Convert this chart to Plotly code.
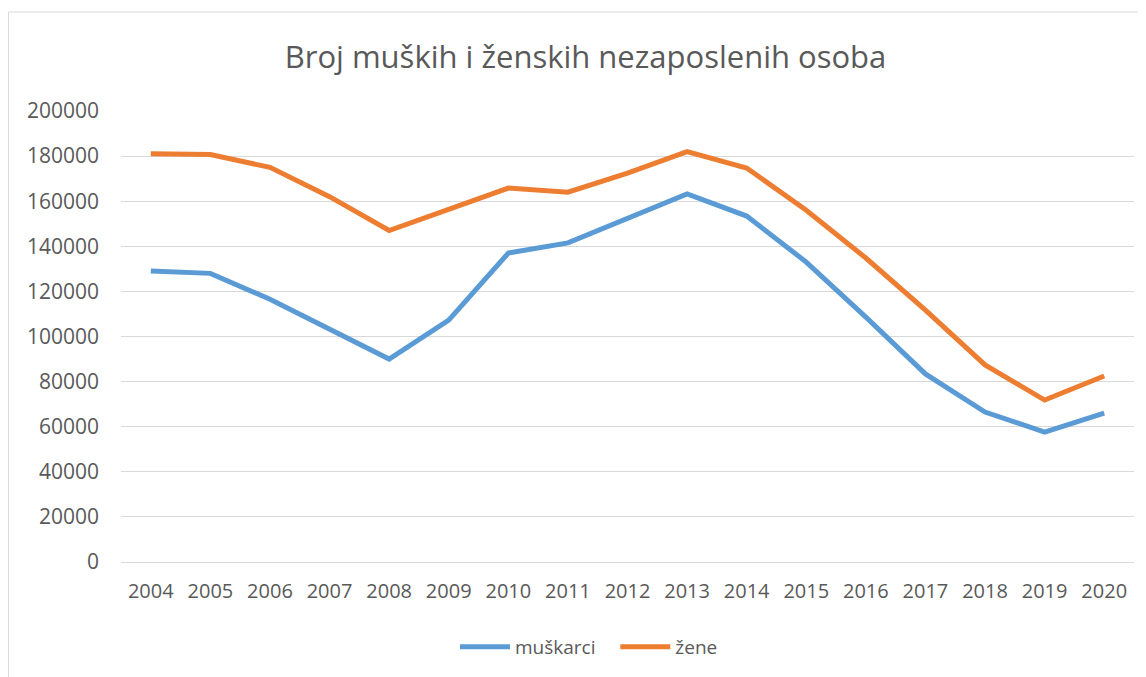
import plotly.graph_objects as go

years = [str(y) for y in range(2004, 2021)]
muskarci = [129000, 128000, 116500, 103000, 90000, 107300, 137000, 141500, 152500, 163200, 153400, 133000, 108600, 83400, 66500, 57600, 66000]
zene = [181000, 180700, 175000, 162000, 147000, 156500, 165800, 164000, 172500, 182000, 174700, 156000, 134800, 111700, 87400, 71800, 82500]
y_ticks = list(range(0, 200001, 20000))

W, H = 1146, 677
L, R, T, B = 113, 20, 103, 123
pw = W - L - R
ph = H - T - B

fig = go.Figure()
fig.add_trace(go.Scatter(x=years, y=muskarci, mode="lines", name="muškarci   ",
                         line=dict(color="#5b9bd5", width=5)))
fig.add_trace(go.Scatter(x=years, y=zene, mode="lines", name="žene",
                         line=dict(color="#ed7d31", width=5)))

font_family = "Open Sans, Liberation Sans, sans-serif"

fig.update_layout(
    width=W, height=H,
    margin=dict(l=L, r=R, t=T, b=B),
    paper_bgcolor="white", plot_bgcolor="white",
    font=dict(family=font_family, color="#595959", size=16),
    title=dict(text="Broj muških i ženskih nezaposlenih osoba",
               x=577.5 / W, xanchor="center", y=1 - 49 / H, yanchor="middle",
               font=dict(size=31, color="#595959", family=font_family)),
    showlegend=True,
    legend=dict(orientation="h", x=(581 - L) / pw, xanchor="center",
                y=(554 - 639) / ph, yanchor="middle",
                font=dict(size=19, color="#595959"), itemwidth=50),
    xaxis=dict(type="category", range=[-0.5, 16.5], showgrid=False,
               showline=True, linecolor="#d9d9d9", linewidth=1,
               ticks="", tickfont=dict(size=20, color="#595959"),
               ticklabelstandoff=11),
    yaxis=dict(range=[0, 200000], tickvals=y_ticks,
               ticktext=[str(v) for v in y_ticks],
               showgrid=True, gridcolor="#d9d9d9", gridwidth=1,
               zeroline=True, zerolinecolor="#d9d9d9", zerolinewidth=1,
               showline=False, ticks="", tickfont=dict(size=21, color="#595959"),
               ticklabelstandoff=21),
)

fig.add_shape(type="rect", xref="paper", yref="paper",
              x0=(0.5 - L) / pw, x1=(1145 - L) / pw,
              y0=(554 - 680) / ph, y1=(554 - 4) / ph,
              line=dict(color="#d9d9d9", width=1), fillcolor="rgba(0,0,0,0)",
              layer="below")

fig.write_html("out.html")
